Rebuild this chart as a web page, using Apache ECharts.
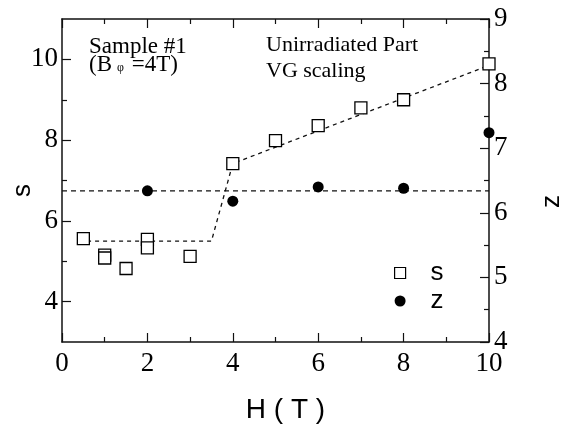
<!DOCTYPE html>
<html>
<head>
<meta charset="utf-8">
<script src="https://cdn.jsdelivr.net/npm/echarts@6/dist/echarts.min.js"></script>
<style>html,body{margin:0;padding:0;background:#fff;}#c{width:567px;height:432px;}</style>
</head>
<body>
<div id="c"></div>
<script>
// ---- data ----
const sX = [0.5, 1, 1, 1.5, 2, 2, 3, 4, 5, 6, 7, 8, 10];
const sVals = [5.56, 5.15, 5.08, 4.82, 5.54, 5.33, 5.12, 7.42, 7.99, 8.36, 8.8, 9.0, 9.89];
const zX = [2, 4, 6, 8, 10];
const zVals = [6.34, 6.18, 6.4, 6.38, 7.24];
const sFitX = [0.4, 3.5, 4, 10];
const sFitVals = [5.5, 5.5, 7.42, 9.85];
const zFitX = [0, 10];
const zFitVals = [6.34, 6.34];
const sLabelTicks = [4, 6, 8, 10];
const sMinorTicks = [5, 7, 9];

const zip = (a, b) => a.map((v, i) => [v, b[i]]);
const SERIF = '"Liberation Serif", "Times New Roman", serif';
const SANS = '"Liberation Sans", Arial, sans-serif';
const lineCol = '#111';

const chart = echarts.init(document.getElementById('c'), null, {renderer: 'canvas'});
chart.setOption({
  animation: false,
  backgroundColor: '#fff',
  grid: {left: 62, right: 78, top: 19, bottom: 90, containLabel: false, outerBoundsMode: 'none'},
  legend: {
    orient: 'vertical', left: 394, top: 259, padding: 0, itemWidth: 11, itemHeight: 11, itemGap: 0,
    textStyle: {fontFamily: SANS, fontSize: 26, lineHeight: 28, color: '#000', padding: [0, 0, 0, 20]},
    data: [
      {name: 's', icon: 'rect', itemStyle: {color: '#fff', borderColor: '#000', borderWidth: 1.2}},
      {name: 'z', icon: 'circle', itemStyle: {color: '#000'}}
    ]
  },
  xAxis: [
    {
      type: 'value', min: 0, max: 10, interval: 2, position: 'bottom',
      name: 'H ( T )', nameLocation: 'middle', nameGap: 54,
      nameTextStyle: {fontFamily: SANS, fontSize: 28, color: '#000', padding: [0, 0, 0, 20]},
      axisLine: {lineStyle: {color: lineCol, width: 1.5}},
      axisTick: {inside: true, length: 9, lineStyle: {color: lineCol, width: 1.2}},
      minorTick: {show: true, splitNumber: 2, length: 5, lineStyle: {color: lineCol, width: 1.2}},
      axisLabel: {fontFamily: SERIF, fontSize: 27, color: '#000', margin: 8},
      splitLine: {show: false}
    },
    {
      type: 'value', min: 0, max: 10, interval: 2, position: 'top',
      axisLine: {lineStyle: {color: lineCol, width: 1.5}},
      axisTick: {inside: true, length: 9, lineStyle: {color: lineCol, width: 1.2}},
      minorTick: {show: true, splitNumber: 2, length: 5, lineStyle: {color: lineCol, width: 1.2}},
      axisLabel: {show: false},
      splitLine: {show: false}
    }
  ],
  yAxis: [
    {
      type: 'value', min: 3, max: 11, position: 'left',
      name: 's', nameLocation: 'middle', nameGap: 26, nameRotate: 90, nameMoveOverlap: false,
      nameTextStyle: {fontFamily: SANS, fontSize: 26, color: '#000', padding: [0, 20, 0, 0]},
      axisLine: {lineStyle: {color: lineCol, width: 1.5}},
      axisTick: {inside: true, length: 9, customValues: sLabelTicks, lineStyle: {color: lineCol, width: 1.2}},
      axisLabel: {fontFamily: SERIF, fontSize: 27, color: '#000', margin: 4, customValues: sLabelTicks},
      splitLine: {show: false}
    },
    {
      type: 'value', min: 3, max: 11, position: 'left',
      axisLine: {show: false},
      axisTick: {inside: true, length: 5, customValues: sMinorTicks, lineStyle: {color: lineCol, width: 1.2}},
      axisLabel: {show: false},
      splitLine: {show: false}
    },
    {
      type: 'value', min: 4, max: 9, interval: 1, position: 'right',
      name: 'z', nameLocation: 'middle', nameGap: 50, nameRotate: 90, nameMoveOverlap: false,
      nameTextStyle: {fontFamily: SANS, fontSize: 26, color: '#000', padding: [0, 42, 0, 0]},
      axisLine: {lineStyle: {color: lineCol, width: 1.5}},
      axisTick: {inside: true, length: 9, lineStyle: {color: lineCol, width: 1.2}},
      minorTick: {show: true, splitNumber: 2, length: 5, lineStyle: {color: lineCol, width: 1.2}},
      axisLabel: {fontFamily: SERIF, fontSize: 27, color: '#000', margin: 5},
      splitLine: {show: false}
    }
  ],
  series: [
    {
      name: 's fit', type: 'line', xAxisIndex: 0, yAxisIndex: 0, data: zip(sFitX, sFitVals),
      showSymbol: false, symbol: 'none', silent: true,
      lineStyle: {color: lineCol, width: 1.3, type: [4, 4]}, z: 1
    },
    {
      name: 'z fit', type: 'line', xAxisIndex: 0, yAxisIndex: 2, data: zip(zFitX, zFitVals),
      showSymbol: false, symbol: 'none', silent: true,
      lineStyle: {color: lineCol, width: 1.3, type: [5, 4]}, z: 1
    },
    {
      name: 's', type: 'scatter', xAxisIndex: 0, yAxisIndex: 0, data: zip(sX, sVals),
      symbol: 'rect', symbolSize: 12,
      itemStyle: {color: '#fff', borderColor: '#000', borderWidth: 1.3, opacity: 1}, z: 3
    },
    {
      name: 'z', type: 'scatter', xAxisIndex: 0, yAxisIndex: 2, data: zip(zX, zVals),
      symbol: 'circle', symbolSize: 11,
      itemStyle: {color: '#000', opacity: 1}, z: 3
    }
  ],
  graphic: [
    {
      type: 'text', left: 89, top: 35,
      style: {
        text: 'Sample #1\n(B{sub|φ} =4T)', fontFamily: SERIF, fontSize: 23, lineHeight: 18, fill: '#000',
        rich: {sub: {fontFamily: SERIF, fontSize: 12, verticalAlign: 'bottom', padding: [9, 2, 0, 5]}}
      }
    },
    {
      type: 'text', left: 266, top: 32,
      style: {text: 'Unirradiated Part\nVG scaling', fontFamily: SERIF, fontSize: 22, lineHeight: 26, fill: '#000'}
    }
  ]
});
</script>
</body>
</html>
